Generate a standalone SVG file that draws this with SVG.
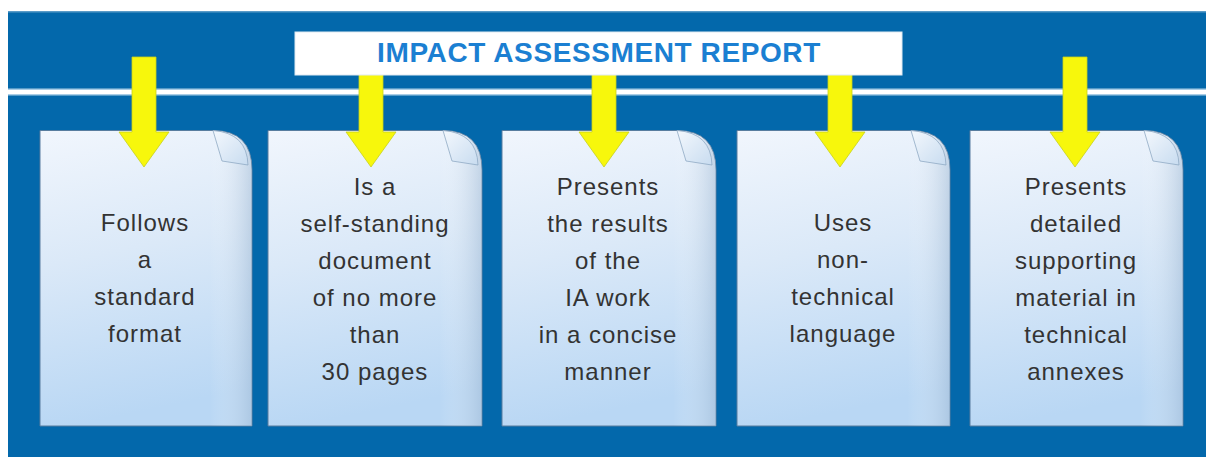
<svg xmlns="http://www.w3.org/2000/svg" width="1206" height="457" viewBox="0 0 1206 457">
  <defs>
    <linearGradient id="docGrad" x1="0" y1="0" x2="0.15" y2="1">
      <stop offset="0" stop-color="#f1f6fd"/>
      <stop offset="0.45" stop-color="#dbe9f8"/>
      <stop offset="1" stop-color="#b9d7f4"/>
    </linearGradient>
    <linearGradient id="foldGrad" x1="0" y1="0" x2="1" y2="1">
      <stop offset="0" stop-color="#f4f8fd"/>
      <stop offset="1" stop-color="#c8dcf0"/>
    </linearGradient>
    <linearGradient id="edgeShade" x1="0" y1="0" x2="1" y2="0">
      <stop offset="0.8" stop-color="#ffffff" stop-opacity="0"/>
      <stop offset="1" stop-color="#9fb8d2" stop-opacity="0.5"/>
    </linearGradient>
    <style>
      .doc { fill: url(#docGrad); stroke: #587d9f; stroke-width: 1; }
      .shade { fill: url(#edgeShade); stroke: none; }
      .fold { fill: url(#foldGrad); stroke: #8fa9c4; stroke-width: 0.8; }
      .arrow { fill: #f7f70c; stroke: #c8d21a; stroke-width: 0.8; }
      .label { font-family: "Liberation Sans", Arial, sans-serif; font-size: 24px; letter-spacing: 1px; fill: #333333; text-anchor: middle; }
      .title { font-family: "Liberation Sans", Arial, sans-serif; font-size: 28px; letter-spacing: 0.6px; font-weight: bold; fill: #1b7fd2; text-anchor: middle; }
    </style>
  </defs>

  <rect x="0" y="0" width="1206" height="457" fill="#ffffff"/>
  <rect x="8" y="11" width="1198" height="446" fill="#0368ab"/>
  <rect x="8" y="11" width="1198" height="1.5" fill="#5a9bc8"/>
  <rect x="8" y="88.5" width="1198" height="7" fill="#a9cde6"/>
  <rect x="8" y="90" width="1198" height="4" fill="#ffffff"/>

  <g id="doc1">
    <path class="doc" d="M40,130.5 H213 Q252,130.5 252,170 V426 H40 Z"/>
    <path class="shade" d="M40,130.5 H213 Q252,130.5 252,170 V426 H40 Z"/>
    <path class="fold" d="M213,130.5 Q247,133 248,165 L222,161 Z"/>
    <text class="label" x="145" y="231">Follows</text>
    <text class="label" x="145" y="268">a</text>
    <text class="label" x="145" y="305">standard</text>
    <text class="label" x="145" y="342">format</text>
  </g>

  <g id="doc2">
    <path class="doc" d="M268,130.5 H443 Q482,130.5 482,170 V426 H268 Z"/>
    <path class="shade" d="M268,130.5 H443 Q482,130.5 482,170 V426 H268 Z"/>
    <path class="fold" d="M443,130.5 Q477,133 478,165 L452,161 Z"/>
    <text class="label" x="375" y="195">Is a</text>
    <text class="label" x="375" y="232">self-standing</text>
    <text class="label" x="375" y="269">document</text>
    <text class="label" x="375" y="306">of no more</text>
    <text class="label" x="375" y="343">than</text>
    <text class="label" x="375" y="380">30 pages</text>
  </g>

  <g id="doc3">
    <path class="doc" d="M502,130.5 H677 Q716,130.5 716,170 V426 H502 Z"/>
    <path class="shade" d="M502,130.5 H677 Q716,130.5 716,170 V426 H502 Z"/>
    <path class="fold" d="M677,130.5 Q711,133 712,165 L686,161 Z"/>
    <text class="label" x="608" y="195">Presents</text>
    <text class="label" x="608" y="232">the results</text>
    <text class="label" x="608" y="269">of the</text>
    <text class="label" x="608" y="306">IA work</text>
    <text class="label" x="608" y="343">in a concise</text>
    <text class="label" x="608" y="380">manner</text>
  </g>

  <g id="doc4">
    <path class="doc" d="M737,130.5 H911 Q950,130.5 950,170 V426 H737 Z"/>
    <path class="shade" d="M737,130.5 H911 Q950,130.5 950,170 V426 H737 Z"/>
    <path class="fold" d="M911,130.5 Q945,133 946,165 L920,161 Z"/>
    <text class="label" x="843" y="231">Uses</text>
    <text class="label" x="843" y="268">non-</text>
    <text class="label" x="843" y="305">technical</text>
    <text class="label" x="843" y="342">language</text>
  </g>

  <g id="doc5">
    <path class="doc" d="M970,130.5 H1144 Q1183,130.5 1183,170 V426 H970 Z"/>
    <path class="shade" d="M970,130.5 H1144 Q1183,130.5 1183,170 V426 H970 Z"/>
    <path class="fold" d="M1144,130.5 Q1178,133 1179,165 L1153,161 Z"/>
    <text class="label" x="1076" y="195">Presents</text>
    <text class="label" x="1076" y="232">detailed</text>
    <text class="label" x="1076" y="269">supporting</text>
    <text class="label" x="1076" y="306">material in</text>
    <text class="label" x="1076" y="343">technical</text>
    <text class="label" x="1076" y="380">annexes</text>
  </g>

  <g id="connectors">
    <path class="arrow" d="M132,57 H156 V132 H169 L144,167 L119,132 H132 Z"/>
    <path class="arrow" d="M359,57 H383 V132 H396 L371,167 L346,132 H359 Z"/>
    <path class="arrow" d="M592,57 H616 V132 H629 L604,167 L579,132 H592 Z"/>
    <path class="arrow" d="M828,57 H852 V132 H865 L840,167 L815,132 H828 Z"/>
    <path class="arrow" d="M1063,57 H1087 V132 H1100 L1075,167 L1050,132 H1063 Z"/>
  </g>

  <g id="title">
    <rect x="295" y="32" width="607" height="43" fill="#ffffff" stroke="#dfe9f2" stroke-width="1"/>
    <text class="title" x="599" y="62">IMPACT ASSESSMENT REPORT</text>
  </g>
</svg>
